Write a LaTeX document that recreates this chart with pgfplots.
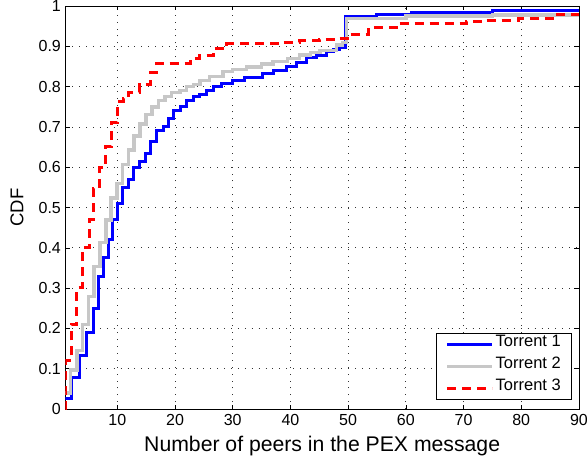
\documentclass[border=0pt]{standalone}
\usepackage{pgfplots}
\pgfplotsset{compat=1.18}
\usepackage{fontspec}
\setmainfont{Liberation Sans}
\usetikzlibrary{calc}
\definecolor{tgray}{rgb}{0.78,0.78,0.78}
\begin{document}
\begin{tikzpicture}
\begin{axis}[
  width=513.5bp, height=403bp, scale only axis,
  xmin=1, xmax=90, ymin=0, ymax=1,
  xtick={10,20,...,90},
  ytick={0,0.1,...,1.01},
  yticklabels={0,0.1,0.2,0.3,0.4,0.5,0.6,0.7,0.8,0.9,1},
  /pgf/number format/assume math mode=true,
  tick label style={font=\fontsize{16bp}{18bp}\selectfont},
  xlabel={Number of peers in the PEX message},
  ylabel={CDF},
  xlabel style={at={(axis description cs:0.5,-0.106)}, anchor=base, font=\fontsize{21.2bp}{24bp}\selectfont},
  ylabel style={at={(axis description cs:-0.082,0.5)}, anchor=base, font=\fontsize{18.5bp}{22bp}\selectfont},
  grid=major,
  major grid style={dash pattern=on 0.9bp off 6bp, black!80, line width=0.7bp},
  tick align=inside, tickpos=both,
  major tick length=4.5bp,
  axis line style={line width=0.8bp},
  every tick/.style={black, line width=0.6bp},
  xticklabel style={yshift=-2bp},
  yticklabel style={xshift=-1bp},
  legend cell align=left,
  legend style={at={(0.986,0.022)}, anchor=south east, draw=black, line width=0.8bp,
    font=\fontsize{16.5bp}{19bp}\selectfont, inner xsep=9bp, inner ysep=1bp, row sep=2bp,
    nodes={inner xsep=1.5bp, inner ysep=0bp, text height=12bp, text depth=8bp}},
  legend image code/.code={\draw[#1] (0bp,0bp) -- (45bp,0bp);},
  const plot,
]
\addplot[blue, line width=3bp, mark=none] coordinates {
(1,0.027) (2.1,0.077) (3.5,0.134) (4.7,0.19) (5.8,0.25) (6.7,0.33) (7.6,0.377)
(8.4,0.42) (9.2,0.47) (10,0.51) (10.9,0.55) (11.9,0.57) (12.8,0.60) (13.8,0.615)
(14.8,0.635) (15.8,0.665) (16.8,0.69) (18,0.70) (18.8,0.72) (19.7,0.74) (20.9,0.75)
(22,0.765) (23.2,0.775) (24.2,0.78) (25.5,0.79) (26.6,0.80) (28,0.808) (30,0.816)
(32,0.822) (35.2,0.833) (37,0.84) (39.4,0.849) (41,0.86) (42.8,0.871) (44.5,0.878)
(46.3,0.886) (47.5,0.892) (48.5,0.898) (49.5,0.975) (55,0.98) (61,0.985) (75,0.988)
(85,0.99) (90,0.99)
};
\addlegendentry{Torrent 1\hspace{21bp}}
\addplot[tgray, line width=3.5bp, mark=none] coordinates {
(1,0.04) (1.9,0.097) (3.0,0.145) (4.0,0.21) (5.0,0.279) (6.0,0.353) (7.0,0.413)
(8.0,0.469) (8.9,0.524) (9.9,0.56) (10.9,0.607) (11.9,0.643) (12.9,0.677) (13.9,0.707)
(15,0.731) (16,0.749) (17.1,0.765) (18.3,0.775) (19.4,0.785) (20.9,0.79) (22,0.80)
(23.2,0.805) (24.3,0.815) (26,0.825) (28.3,0.837) (30,0.842) (32.4,0.849) (35,0.856)
(37,0.862) (39.5,0.87) (41.6,0.878) (43.5,0.884) (45.1,0.89) (48,0.903) (49,0.91)
(49.75,0.969) (60,0.975) (75,0.978) (90,0.98)
};
\addlegendentry{Torrent 2\hspace{21bp}}
\addplot[red, line width=3bp, dash pattern=on 9bp off 6bp, mark=none] coordinates {
(1,0.0) (1.1,0.12) (2.1,0.21) (3,0.302) (4,0.40) (5.1,0.47) (5.8,0.548) (6.9,0.60)
(7.9,0.651) (9,0.71) (10,0.763) (11,0.77) (11.9,0.785) (13.9,0.805) (15.7,0.835)
(16.8,0.858) (22.6,0.87) (24.3,0.878) (26.6,0.895) (29,0.906) (38.7,0.91) (41.6,0.914)
(45,0.917) (48.5,0.92) (50.2,0.93) (53.5,0.947) (58.4,0.957) (70.5,0.961) (73.5,0.965)
(79.5,0.969) (86.3,0.978) (90,0.978)
};
\addlegendentry{Torrent 3\hspace{21bp}}
\end{axis}
\pgfresetboundingbox
\path ($(current axis.south west)+(-65.4bp,-53bp)$) rectangle ($(current axis.north east)+(8.1bp,6bp)$);
\end{tikzpicture}
\end{document}
